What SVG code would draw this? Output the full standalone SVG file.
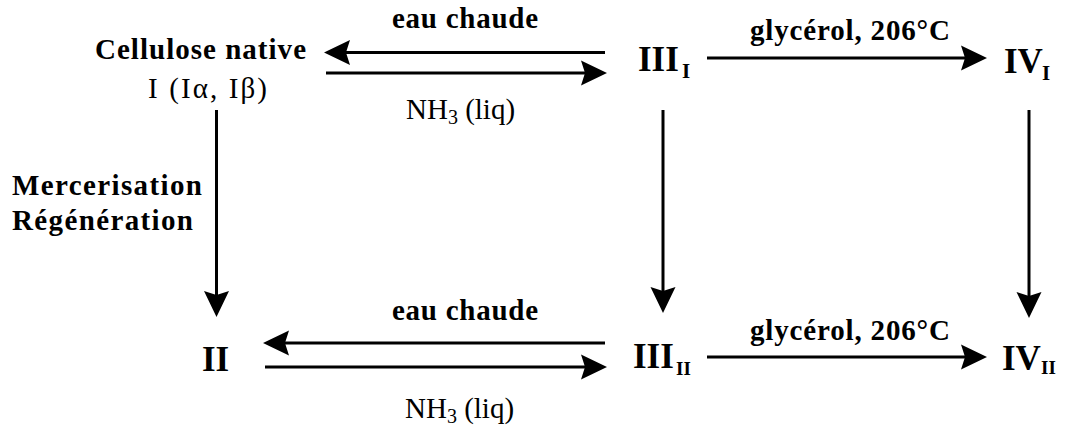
<svg xmlns="http://www.w3.org/2000/svg" width="1069" height="428" viewBox="0 0 1069 428" font-family="'Liberation Serif', serif">
  <style>
    .t { font-family: 'Liberation Serif', serif; fill: #000; }
    .b { font-weight: bold; }
    .lbl { font-size: 29px; }
    .num { font-size: 35px; font-weight: bold; }
    .sub { font-size: 21px; font-weight: bold; }
    .subs { font-size: 19px; font-weight: bold; }
    .ln { stroke: #000; stroke-width: 3; fill: none; }
  </style>
  <defs>
    <!-- arrowhead pointing right, tip at origin -->
    <path id="head" d="M0,0 L-26,-12.5 L-22,0 L-26,12.5 Z" fill="#000"/>
  </defs>
  <rect width="1069" height="428" fill="#fff"/>

  <!-- connectors -->
  <g id="connectors">
    <!-- top row: I <-> III_I -->
    <line class="ln" x1="340" y1="52.5" x2="605" y2="52.5"/>
    <use href="#head" transform="translate(324,52.5) rotate(180)"/>
    <line class="ln" x1="326" y1="73" x2="590" y2="73"/>
    <use href="#head" transform="translate(607,73)"/>
    <!-- top row: III_I -> IV_I -->
    <line class="ln" x1="707" y1="58" x2="970" y2="58"/>
    <use href="#head" transform="translate(987,58)"/>
    <!-- bottom row: II <-> III_II -->
    <line class="ln" x1="280" y1="343" x2="605" y2="343"/>
    <use href="#head" transform="translate(263,343) rotate(180)"/>
    <line class="ln" x1="265" y1="367" x2="590" y2="367"/>
    <use href="#head" transform="translate(607,367)"/>
    <!-- bottom row: III_II -> IV_II -->
    <line class="ln" x1="707" y1="357" x2="970" y2="357"/>
    <use href="#head" transform="translate(987,357)"/>
    <!-- verticals -->
    <line class="ln" x1="216.5" y1="110" x2="216.5" y2="300"/>
    <use href="#head" transform="translate(216.5,317) rotate(90)"/>
    <line class="ln" x1="663" y1="110" x2="663" y2="296"/>
    <use href="#head" transform="translate(663,313) rotate(90)"/>
    <line class="ln" x1="1029" y1="110" x2="1029" y2="301"/>
    <use href="#head" transform="translate(1029,318) rotate(90)"/>
  </g>

  <!-- edge labels -->
  <g id="labels">
    <text class="t lbl b" x="392" y="28" textLength="146">eau chaude</text>
    <text class="t lbl" x="406" y="119" font-size="31">NH<tspan font-size="20" dy="5">3</tspan><tspan dy="-5"> (liq)</tspan></text>
    <text class="t lbl b" x="750" y="40" textLength="200">glycérol, 206°C</text>
    <text class="t lbl b" x="12" y="195" textLength="190">Mercerisation</text>
    <text class="t lbl b" x="12" y="230" textLength="181">Régénération</text>
    <text class="t lbl b" x="392" y="320" textLength="146">eau chaude</text>
    <text class="t lbl" x="405" y="418" font-size="31">NH<tspan font-size="20" dy="5">3</tspan><tspan dy="-5"> (liq)</tspan></text>
    <text class="t lbl b" x="750" y="340" textLength="200">glycérol, 206°C</text>
  </g>

  <!-- nodes -->
  <g id="node-I">
    <text class="t lbl b" x="95" y="59" textLength="211">Cellulose native</text>
    <text class="t lbl" x="148" y="98" textLength="119">I (Iα, Iβ)</text>
  </g>
  <g id="node-II">
    <text class="t num" x="202" y="371">II</text>
  </g>
  <g id="node-III-I">
    <text class="t num" x="638" y="71">III</text>
    <text class="t sub" x="682" y="78">I</text>
  </g>
  <g id="node-IV-I">
    <text class="t num" x="1004" y="73">IV</text>
    <text class="t sub" x="1042" y="80">I</text>
  </g>
  <g id="node-III-II">
    <text class="t num" x="633" y="368">III</text>
    <text class="t subs" x="676" y="375">II</text>
  </g>
  <g id="node-IV-II">
    <text class="t num" x="1002" y="370">IV</text>
    <text class="t subs" x="1041" y="374">II</text>
  </g>
</svg>
